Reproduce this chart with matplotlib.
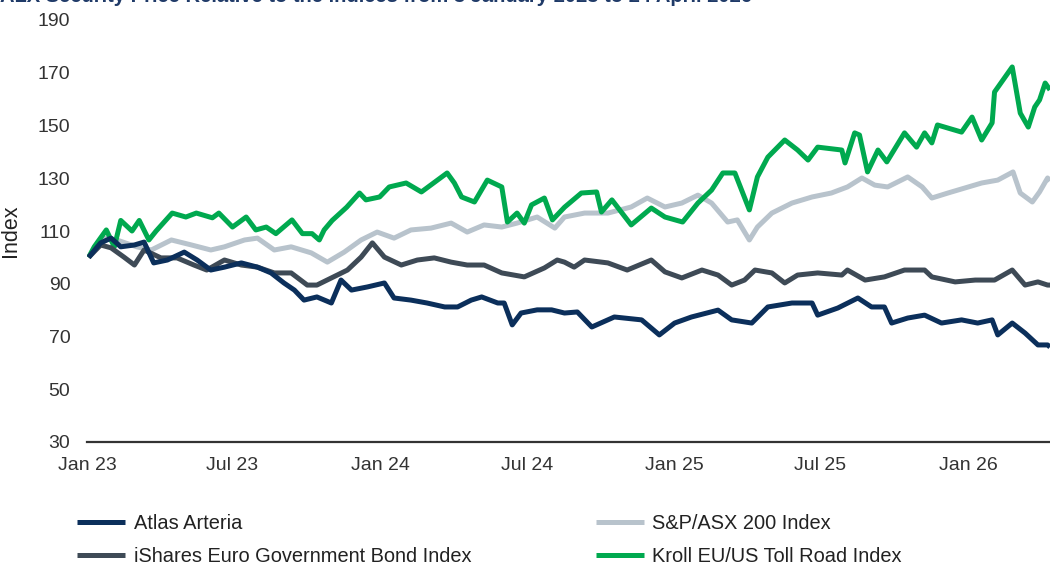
import matplotlib.pyplot as plt
import matplotlib.dates as mdates
import pandas as pd

plt.rcParams['font.family'] = ['Liberation Sans', 'DejaVu Sans']

# Atlas Arteria
alx_dates = ['2023-01-03', '2023-01-18', '2023-01-31', '2023-02-12', '2023-03-01', '2023-03-13',
             '2023-03-25', '2023-04-11', '2023-05-02', '2023-05-18', '2023-06-04', '2023-06-21',
             '2023-07-12', '2023-08-01', '2023-08-18', '2023-09-03', '2023-09-16', '2023-09-28',
             '2023-10-14', '2023-11-01', '2023-11-13', '2023-11-26', '2023-12-16', '2024-01-06',
             '2024-01-18', '2024-02-08', '2024-02-28', '2024-03-21', '2024-04-06', '2024-04-23',
             '2024-05-06', '2024-05-26', '2024-06-03', '2024-06-13', '2024-06-24', '2024-07-14',
             '2024-08-01', '2024-08-17', '2024-09-02', '2024-09-20', '2024-10-18', '2024-11-21',
             '2024-12-13', '2025-01-01', '2025-01-22', '2025-02-24', '2025-03-13', '2025-04-07',
             '2025-04-27', '2025-05-27', '2025-06-21', '2025-06-28', '2025-07-23', '2025-08-17',
             '2025-09-03', '2025-09-19', '2025-09-28', '2025-10-18', '2025-11-08', '2025-11-29',
             '2025-12-24', '2026-01-13', '2026-01-31', '2026-02-07', '2026-02-25', '2026-03-13',
             '2026-03-29', '2026-04-10', '2026-04-13']
alx_vals = [100, 105.5, 107.3, 104, 104.7, 105.8,
            97.9, 99, 102, 99, 95.2, 96.3,
            97.9, 96.3, 94.1, 90.3, 87.6, 83.8,
            85, 82.7, 91.4, 87.6, 88.8, 90.3,
            84.6, 83.8, 82.7, 81.2, 81.2, 83.8,
            85, 82.7, 82.7, 74.4, 78.9, 80.1,
            80.1, 78.9, 79.3, 73.6, 77.4, 76.3,
            70.6, 75.1, 77.4, 80, 76.3, 75.1,
            81.2, 82.7, 82.7, 78.1, 80.8, 84.6,
            81.2, 81.2, 75.1, 77, 78.1, 75.1,
            76.3, 75.1, 76.3, 70.6, 75.1, 71.3,
            66.8, 66.8, 66]

# S&P/ASX 200
asx_dates = ['2023-01-03', '2023-01-22', '2023-02-07', '2023-03-04', '2023-03-22', '2023-04-16',
             '2023-05-11', '2023-06-04', '2023-06-21', '2023-07-16', '2023-08-01', '2023-08-22',
             '2023-09-12', '2023-10-07', '2023-10-27', '2023-11-17', '2023-12-08', '2023-12-28',
             '2024-01-18', '2024-02-08', '2024-03-04', '2024-03-29', '2024-04-18', '2024-05-09',
             '2024-05-31', '2024-06-19', '2024-07-14', '2024-08-05', '2024-08-17', '2024-09-11',
             '2024-10-10', '2024-11-08', '2024-11-28', '2024-12-20', '2025-01-10', '2025-01-30',
             '2025-02-16', '2025-03-08', '2025-03-20', '2025-04-04', '2025-04-14', '2025-05-02',
             '2025-05-27', '2025-06-21', '2025-07-15', '2025-08-04', '2025-08-22', '2025-09-07',
             '2025-09-23', '2025-10-18', '2025-11-05', '2025-11-17', '2025-12-07', '2025-12-28',
             '2026-01-18', '2026-02-07', '2026-02-26', '2026-03-07', '2026-03-22', '2026-03-31',
             '2026-04-10', '2026-04-13']
asx_vals = [100, 107.3, 106.6, 104, 102.8, 106.6,
            104.7, 102.8, 104, 106.6, 107.3, 102.8,
            104, 101.7, 98.2, 102, 106.6, 109.6,
            107.3, 110.4, 111.1, 113, 109.6, 112.3,
            111.5, 113, 115.3, 111.1, 115.3, 116.8,
            116.8, 119.1, 122.5, 119.1, 120.6, 123.6,
            120.6, 113.4, 114.2, 106.6, 111.5, 116.8,
            120.6, 122.9, 124.4, 126.7, 130.1, 127.4,
            126.7, 130.5, 126.7, 122.5, 124.4, 126.3,
            128.2, 129.3, 132.4, 124.4, 121, 124.8,
            130.1, 129]

# iShares Euro Government Bond
bond_dates = ['2023-01-03', '2023-01-18', '2023-01-31', '2023-02-16', '2023-03-01', '2023-03-13',
              '2023-04-03', '2023-04-23', '2023-05-14', '2023-05-30', '2023-06-21', '2023-07-12',
              '2023-08-01', '2023-08-22', '2023-09-12', '2023-10-02', '2023-10-14', '2023-11-01',
              '2023-11-21', '2023-12-08', '2023-12-22', '2024-01-06', '2024-01-27', '2024-02-16',
              '2024-03-08', '2024-03-29', '2024-04-18', '2024-05-09', '2024-05-31', '2024-06-28',
              '2024-07-23', '2024-08-08', '2024-08-17', '2024-08-29', '2024-09-11', '2024-10-10',
              '2024-11-03', '2024-12-03', '2024-12-20', '2025-01-10', '2025-02-04', '2025-02-24',
              '2025-03-13', '2025-03-29', '2025-04-11', '2025-05-02', '2025-05-18', '2025-06-03',
              '2025-06-28', '2025-07-28', '2025-08-04', '2025-08-26', '2025-09-19', '2025-10-14',
              '2025-11-08', '2025-11-17', '2025-12-16', '2026-01-10', '2026-02-03', '2026-02-25',
              '2026-03-13', '2026-03-29', '2026-04-10', '2026-04-13']
bond_vals = [100, 104.7, 103.6, 100.1, 97.1, 102.8,
             99.8, 99.8, 97.1, 95.2, 99, 97.1,
             96.3, 94.1, 94.1, 89.5, 89.5, 92.2,
             95.2, 100.1, 105.5, 100.1, 97.1, 99,
             99.8, 98.2, 97.1, 97.1, 94.1, 92.6,
             96, 99, 98.2, 96.3, 99, 97.9,
             95.2, 99, 94.5, 92.2, 95.2, 93.3,
             89.5, 91.4, 95.2, 94.1, 90.3, 93.3,
             94.1, 93.3, 95.2, 91.4, 92.6, 95.2,
             95.2, 92.6, 90.7, 91.4, 91.4, 95.2,
             89.5, 90.7, 89.5, 89.5]

# Kroll EU/US Toll Road
toll_dates = ['2023-01-03', '2023-01-10', '2023-01-17', '2023-01-25', '2023-02-04', '2023-02-12',
              '2023-02-26', '2023-03-07', '2023-03-19', '2023-03-28', '2023-04-17', '2023-05-04',
              '2023-05-17', '2023-06-06', '2023-06-14', '2023-06-23', '2023-07-01', '2023-07-18',
              '2023-07-30', '2023-08-12', '2023-08-24', '2023-09-13', '2023-09-26', '2023-10-08',
              '2023-10-17', '2023-10-23', '2023-11-02', '2023-11-20', '2023-12-06', '2023-12-14',
              '2023-12-31', '2024-01-12', '2024-02-02', '2024-02-21', '2024-03-24', '2024-04-02',
              '2024-04-11', '2024-04-27', '2024-05-13', '2024-05-31', '2024-06-07', '2024-06-19',
              '2024-06-28', '2024-07-07', '2024-07-23', '2024-08-02', '2024-08-17', '2024-09-07',
              '2024-09-26', '2024-10-02', '2024-10-15', '2024-11-08', '2024-12-03', '2024-12-20',
              '2025-01-11', '2025-01-30', '2025-02-16', '2025-03-02', '2025-03-17', '2025-04-04',
              '2025-04-14', '2025-04-27', '2025-05-18', '2025-06-03', '2025-06-16', '2025-06-28',
              '2025-07-28', '2025-08-01', '2025-08-13', '2025-08-19', '2025-08-29', '2025-09-11',
              '2025-09-22', '2025-10-14', '2025-10-29', '2025-11-08', '2025-11-17', '2025-11-24',
              '2025-12-24', '2026-01-06', '2026-01-18', '2026-01-31', '2026-02-03', '2026-02-25',
              '2026-03-07', '2026-03-17', '2026-03-25', '2026-03-31', '2026-04-07', '2026-04-13']
toll_vals = [100, 104, 107, 110.4, 104, 114,
             110, 114, 106.6, 110, 116.8, 115.3,
             116.8, 115, 116.8, 114, 111.5, 115.3,
             110.4, 111.5, 109, 114.2, 109, 109,
             106.6, 110.4, 114, 119, 124.4, 121.8,
             122.9, 126.7, 128.2, 124.8, 132, 128.2,
             122.9, 121, 129.3, 126.7, 113.4, 116.8,
             113, 119.9, 122.5, 114.2, 119, 124.4,
             124.8, 117.2, 121.8, 112.3, 118.7, 115.3,
             113.4, 120.6, 125.5, 132, 132, 118,
             130.5, 138, 144.5, 140.7, 136.9, 141.8,
             140.7, 135.8, 147.2, 146.4, 132.4, 140.7,
             136.2, 147.2, 141.8, 147.2, 143.4, 150.2,
             147.5, 153.2, 144.5, 151, 162.7, 172.2,
             154.7, 149.4, 157, 159.7, 166.1, 163.5]

series = [
    ('Atlas Arteria', alx_dates, alx_vals, '#0b2f5b'),
    ('iShares Euro Government Bond Index', bond_dates, bond_vals, '#3e4a56'),
    ('S&P/ASX 200 Index', asx_dates, asx_vals, '#b8c3cc'),
    ('Kroll EU/US Toll Road Index', toll_dates, toll_vals, '#00a94f'),
]

fig = plt.figure(figsize=(10.5, 5.68), dpi=100)
ax = fig.add_axes([87 / 1050, 1 - 442 / 568, 1 - 87 / 1050, 422 / 568])

# draw order: light grey and green first so the darker lines sit over them
for name, d, v, c in [series[2], series[3], series[1], series[0]]:
    ax.plot(pd.to_datetime(d), v, color=c, linewidth=3.6, label=name,
            solid_joinstyle='round', solid_capstyle='butt')

ax.set_ylim(30, 190)
ax.set_yticks(range(30, 191, 20))
ax.set_xlim(pd.Timestamp('2023-01-01'), pd.Timestamp('2026-04-13'))
ax.xaxis.set_major_locator(mdates.MonthLocator(bymonth=[1, 7]))
ax.xaxis.set_major_formatter(mdates.DateFormatter('%b %y'))
ax.tick_params(axis='both', length=0, labelsize=14, labelcolor='#333333')
ax.tick_params(axis='y', pad=12)
ax.tick_params(axis='x', pad=11)
ax.set_ylabel('Index', fontsize=15.5, color='#222222', labelpad=12)

for s in ['top', 'right', 'left']:
    ax.spines[s].set_visible(False)
ax.spines['bottom'].set_color('#333333')
ax.spines['bottom'].set_linewidth(1.6)

handles = {h.get_label(): h for h in ax.get_lines()}
order = [s[0] for s in series]
fig.legend([handles[n] for n in order], order, ncol=2, frameon=False,
           loc='upper left', bbox_to_anchor=(77 / 1050, 1 - 514 / 568),
           fontsize=14.4, handlelength=2.4, handletextpad=0.45,
           columnspacing=6.2, labelspacing=0.72, borderpad=0, borderaxespad=0,
           labelcolor='#222222')

fig.text(0.0, 1 - 2 / 568,
         'ALX Security Price Relative to the indices from 3 January 2023 to 24 April 2026',
         fontsize=14.5, fontweight='bold', color='#1f3a68', va='baseline', ha='left')

fig.savefig('out.png', dpi=100)
